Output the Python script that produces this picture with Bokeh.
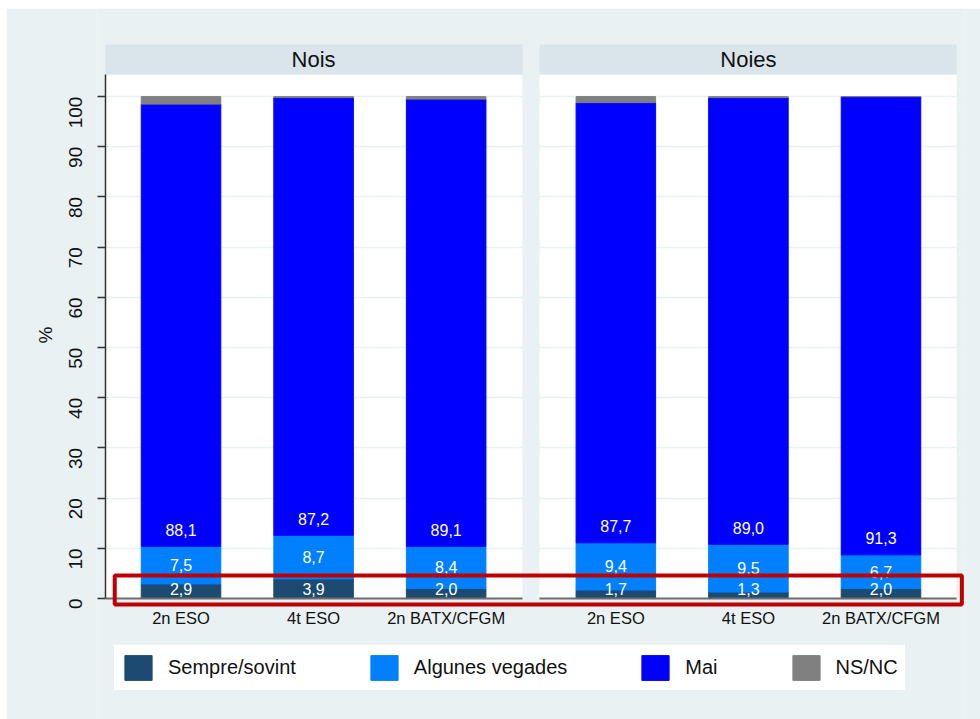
import math
from bokeh.plotting import figure
from bokeh.models import (ColumnDataSource, FactorRange, Range1d, FixedTicker, Grid,
                          LinearAxis, CategoricalAxis, BoxAnnotation, Label,
                          Legend, LegendItem, Title)
from bokeh.core.properties import value
from bokeh.embed import file_html
from bokeh.resources import INLINE

# ---------------- data ----------------
panels = ["Nois", "Noies"]
levels = ["2n ESO", "4t ESO", "2n BATX/CFGM"]
series = ["Sempre/sovint", "Algunes vegades", "Mai", "NS/NC"]
keys = ["sempre", "algunes", "mai", "nsnc"]
colors = ["#1D4A70", "#0080FF", "#0000FF", "#808080"]

sempre_nois = [2.9, 3.9, 2.0]
algunes_nois = [7.5, 8.7, 8.4]
mai_nois = [88.1, 87.2, 89.1]
nsnc_nois = [1.5, 0.2, 0.5]

sempre_noies = [1.7, 1.3, 2.0]
algunes_noies = [9.4, 9.5, 6.7]
mai_noies = [87.7, 89.0, 91.3]
nsnc_noies = [1.2, 0.2, 0.0]

y_ticks = [0, 10, 20, 30, 40, 50, 60, 70, 80, 90, 100]

# ---------------- style / layout constants ----------------
BG = "#E9F1F3"
HEADER = "#D9E5EB"
FONT = "Liberation Sans"
TXT = "#111111"
GROUP_PAD = 0.28        # gap between the two facets (category units)
PANEL_PAD = 0.07        # white panel margin beyond outer bars
FRAME_PAD = 0.13        # frame padding around all categories
Y_END = 104.4           # top of the plotting panels
HEADER_H = 5.98         # height of facet header strip (y units)
Y_MIN, Y_MAX = -24.1, 117.55

factors = [(pn, lv) for pn in panels for lv in levels]
src = ColumnDataSource(dict(
    x=factors,
    sempre=sempre_nois + sempre_noies,
    algunes=algunes_nois + algunes_noies,
    mai=mai_nois + mai_noies,
    nsnc=nsnc_nois + nsnc_noies,
))

x_range = FactorRange(factors=factors, group_padding=GROUP_PAD,
                      range_padding=FRAME_PAD, range_padding_units="absolute")

p = figure(x_range=x_range, y_range=Range1d(Y_MIN, Y_MAX), width=974, height=711,
           margin=(8, 0, 0, 6), min_border_left=91, min_border_right=16,
           min_border_top=0, min_border_bottom=0,
           x_axis_location=None, y_axis_location=None,
           output_backend="svg", toolbar_location=None)
p.title.visible = False
p.background_fill_color = BG
p.border_fill_color = BG
p.outline_line_color = None
p.center = []

n = len(levels)
left_edges = [-PANEL_PAD, n + GROUP_PAD - PANEL_PAD - 0.005]
right_edges = [n + PANEL_PAD + 0.005, 2 * n + GROUP_PAD + PANEL_PAD]
centers = [n / 2, n + GROUP_PAD + n / 2]

# white plotting panels and facet headers
for name, l, r, c in zip(panels, left_edges, right_edges, centers):
    p.add_layout(BoxAnnotation(left=l, right=r, bottom=0, top=Y_END,
                               fill_color="white", fill_alpha=1, line_color=None,
                               level="image"))
    p.add_layout(BoxAnnotation(left=l, right=r, bottom=Y_END, top=Y_END + HEADER_H,
                               fill_color=HEADER, fill_alpha=1, line_color=None,
                               level="image"))
    p.add_layout(Label(x=c, y=Y_END + HEADER_H / 2, text=name, text_align="center",
                       text_baseline="middle", text_font=FONT, text_font_size="22px",
                       text_color=TXT))

# grid
p.add_layout(Grid(dimension=1, ticker=FixedTicker(ticks=y_ticks),
                  grid_line_color=BG, grid_line_width=1.5))

renderers = p.vbar_stack(keys, x="x", width=0.6, color=colors, source=src)

# value labels
lab_x, lab_y, lab_t = [], [], []
sem = sempre_nois + sempre_noies
alg = algunes_nois + algunes_noies
mai = mai_nois + mai_noies
for f, s, a, m in zip(factors, sem, alg, mai):
    lab_x += [f, f, f]
    lab_y += [1.9, s + a / 2, s + a + 3.3]
    lab_t += [f"{v:.1f}".replace(".", ",") for v in (s, a, m)]
lsrc = ColumnDataSource(dict(x=lab_x, y=lab_y, t=lab_t))
p.text(x="x", y="y", text="t", source=lsrc, text_color="white",
       text_font=value(FONT), text_font_size="16px", text_align="center",
       text_baseline="middle")

# y axis line and ticks at the left edge of the first panel
yrule = LinearAxis(fixed_location=left_edges[0], bounds=(0, Y_END),
                   ticker=FixedTicker(ticks=y_ticks))
yrule.axis_line_color = "#333333"
yrule.axis_line_width = 1.5
yrule.major_tick_line_color = "#333333"
yrule.major_tick_line_width = 1.5
yrule.major_tick_out = 9
yrule.major_tick_in = 0
yrule.minor_tick_line_color = None
yrule.major_label_text_font_size = "0px"
yrule.major_label_text_color = None
p.add_layout(yrule, "left")

# y tick labels
ylab = LinearAxis(ticker=FixedTicker(ticks=y_ticks), bounds=(0, Y_END))
ylab.axis_line_color = None
ylab.major_tick_line_color = None
ylab.major_tick_out = 0
ylab.major_tick_in = 0
ylab.minor_tick_line_color = None
ylab.major_label_orientation = math.pi / 2
ylab.major_label_standoff = 22
ylab.major_label_text_font = FONT
ylab.major_label_text_font_size = "19px"
ylab.major_label_text_color = TXT
p.add_layout(ylab, "left")

# y title "%", placed at the middle of the plotting panels
p.add_layout(Title(text="%", align="left", offset=376, standoff=8,
                   text_font=FONT, text_font_size="19px", text_font_style="normal",
                   text_color=TXT), "left")

# x axes (one per facet)
for l, r in zip(left_edges, right_edges):
    xa = CategoricalAxis(fixed_location=0, bounds=(l, r))
    xa.axis_line_color = "#6E6E6E"
    xa.axis_line_width = 2
    xa.major_tick_line_color = None
    xa.major_tick_out = 0
    xa.major_tick_in = 0
    xa.minor_tick_line_color = None
    xa.major_label_standoff = 10
    xa.major_label_text_font = FONT
    xa.major_label_text_font_size = "16.5px"
    xa.major_label_text_color = TXT
    xa.group_text_font_size = "0px"
    xa.group_text_color = None
    xa.separator_line_color = None
    p.add_layout(xa, "below")

# red highlight box
p.add_layout(BoxAnnotation(left=0.0, right=2 * n + GROUP_PAD + 0.11,
                           bottom=-1.2, top=4.6, fill_alpha=0, fill_color=None,
                           line_color="#C00000", line_width=4, line_alpha=1,
                           level="overlay"))

# legend
legend = Legend(items=[LegendItem(label=s, renderers=[r]) for s, r in zip(series, renderers)],
                orientation="horizontal", location=(17, 29),
                label_text_font=FONT, label_text_font_size="20px",
                label_text_color=TXT, label_height=31,
                glyph_width=34, glyph_height=31, label_standoff=13, spacing=71,
                padding=0, margin=0, border_line_color="white", border_line_width=7,
                border_line_alpha=1,
                background_fill_color="white", background_fill_alpha=1)
p.add_layout(legend, "center")

open("out.html", "w").write(file_html(p, INLINE))
